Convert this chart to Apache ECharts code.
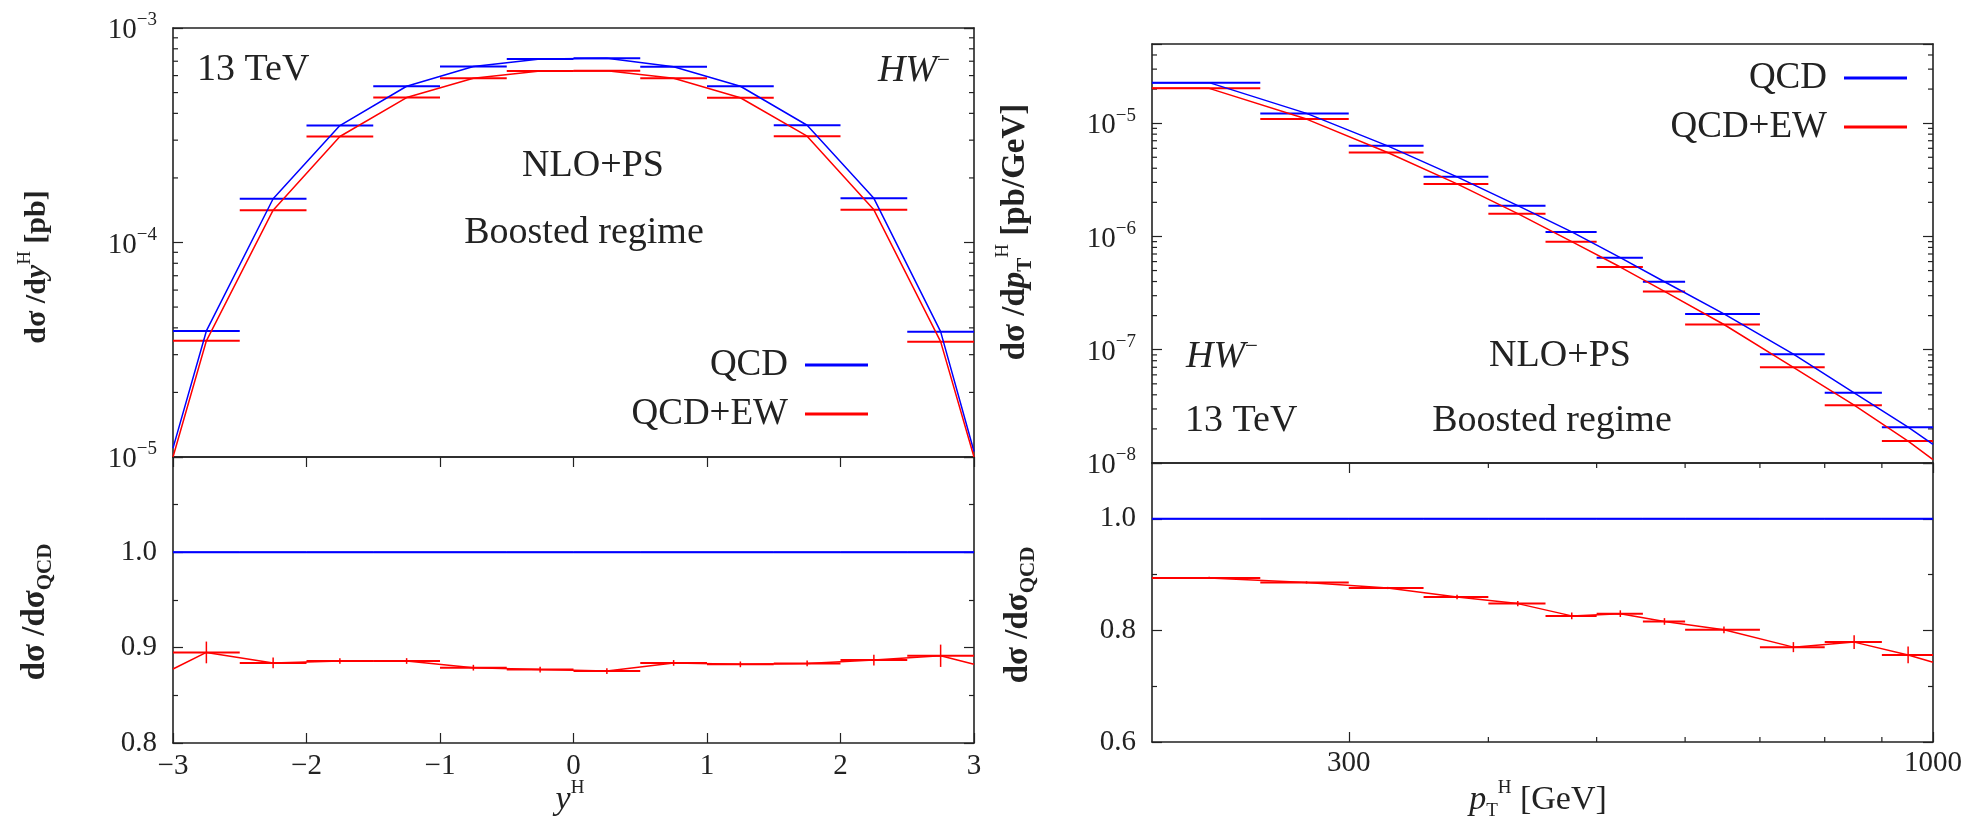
<!DOCTYPE html>
<html>
<head>
<meta charset="utf-8">
<script src="https://cdn.jsdelivr.net/npm/echarts@6/dist/echarts.min.js"></script>
<style>
  html, body { margin: 0; padding: 0; background: #fff; }
  #chart { width: 1980px; height: 821px; }
</style>
</head>
<body>
<div id="chart"></div>
<script>
// rapidity distribution (left)
const yEdges = [-3, -2.5, -2, -1.5, -1, -0.5, 0, 0.5, 1, 1.5, 2, 2.5, 3]
const yQCD = [3.87e-5, 1.60e-4, 3.51e-4, 5.35e-4, 6.61e-4, 7.17e-4, 7.23e-4, 6.60e-4, 5.35e-4, 3.52e-4, 1.607e-4, 3.84e-5]
const yQCDEW = [3.48e-5, 1.415e-4, 3.12e-4, 4.74e-4, 5.83e-4, 6.30e-4, 6.32e-4, 5.83e-4, 4.73e-4, 3.13e-4, 1.42e-4, 3.45e-5]
const yQCDEnds = [1.1e-5, 1.06e-5]
const yQCDEWEnds = [1.0e-5, 1.0e-5]
const yRatioQCD = [1, 1, 1, 1, 1, 1, 1, 1, 1, 1, 1, 1]
const yRatio = [0.895, 0.884, 0.886, 0.886, 0.879, 0.877, 0.8755, 0.884, 0.8825, 0.8835, 0.887, 0.8915]
const yRatioErr = [0.0114, 0.0056, 0.003, 0.003, 0.003, 0.003, 0.003, 0.003, 0.003, 0.003, 0.0056, 0.0117]
const yRatioEnds = [0.8776, 0.8825]
const yTickLabels = [-3, -2, -1, 0, 1, 2, 3]

// transverse momentum distribution (right)
const ptEdges = [200, 250, 300, 350, 400, 450, 500, 550, 600, 700, 800, 900, 1000]
const ptQCD = [2.28e-5, 1.22e-5, 6.31e-6, 3.36e-6, 1.87e-6, 1.096e-6, 6.5e-7, 3.98e-7, 2.07e-7, 9.14e-8, 4.16e-8, 2.07e-8]
const ptQCDEW = [2.03e-5, 1.087e-5, 5.51e-6, 2.91e-6, 1.59e-6, 9.0e-7, 5.37e-7, 3.27e-7, 1.67e-7, 7.0e-8, 3.24e-8, 1.56e-8]
const ptQCDEnds = [2.28e-5, 1.46e-8]
const ptQCDEWEnds = [2.03e-5, 1.07e-8]
const ptRatioQCD = [1, 1, 1, 1, 1, 1, 1, 1, 1, 1, 1, 1]
const ptRatio = [0.894, 0.886, 0.876, 0.860, 0.848, 0.826, 0.830, 0.816, 0.801, 0.770, 0.779, 0.756]
const ptRatioErr = [0.002, 0.002, 0.002, 0.004, 0.0045, 0.006, 0.006, 0.006, 0.006, 0.009, 0.0125, 0.015]
const ptRatioEnds = [0.894, 0.743]
const ptTickLabels = [300, 1000]
const ptMinorTicks = [400, 500, 600, 700, 800, 900]

const BLUE = '#0000ff'
const RED = '#ff0000'
const INK = '#222'
const FONT = "'Liberation Serif', 'DejaVu Serif', serif"

function binData (edges, vals, errs) {
  return vals.map((v, i) => [edges[i], edges[i + 1], (edges[i] + edges[i + 1]) / 2, v, errs ? errs[i] : 0])
}
function lineData (edges, vals, ends) {
  let pts = vals.map((v, i) => [(edges[i] + edges[i + 1]) / 2, v])
  return [[edges[0], ends[0]]].concat(pts, [[edges[edges.length - 1], ends[1]]])
}
function decadeMinors (from, to, topMax) {
  let out = []
  for (let e = from; e < to; e++) {
    for (let k = 2; k <= 9; k++) {
      let v = k * Math.pow(10, e)
      if (!topMax || v < topMax) out.push(v)
    }
  }
  return out
}

function renderBin (params, api) {
  let lo = api.value(0), hi = api.value(1), c = api.value(2), v = api.value(3), e = api.value(4)
  let a = api.coord([lo, v]), b = api.coord([hi, v])
  let color = api.visual('color')
  let children = [{
    type: 'line', shape: { x1: a[0], y1: a[1], x2: b[0], y2: b[1] },
    style: { stroke: color, lineWidth: 2 }
  }]
  if (e > 0) {
    let t = api.coord([c, v + e]), d = api.coord([c, v - e])
    children.push({ type: 'line', shape: { x1: t[0], y1: t[1], x2: d[0], y2: d[1] }, style: { stroke: color, lineWidth: 1.5 } })
  }
  return { type: 'group', children: children }
}

function binSeries (name, color, xi, yi, data) {
  return {
    name: name, type: 'custom', xAxisIndex: xi, yAxisIndex: yi,
    itemStyle: { color: color }, renderItem: renderBin,
    encode: { x: [0, 1, 2], y: [3] }, data: data, z: 3
  }
}
function lineSeries (name, color, xi, yi, data) {
  return {
    name: name, type: 'line', xAxisIndex: xi, yAxisIndex: yi, showSymbol: false,
    lineStyle: { color: color, width: 1.5 }, itemStyle: { color: color }, data: data, z: 4
  }
}
// minor ticks on log axes (at 2..9 x 10^n), drawn from the axis scales
function yMinorSeries (xi, yi, xmin, vals) {
  return {
    type: 'custom', xAxisIndex: xi, yAxisIndex: yi, silent: true,
    encode: { x: 0, y: 1 },
    data: vals.map(v => [xmin, v]),
    renderItem: function (params, api) {
      let p = api.coord([api.value(0), api.value(1)])
      let cs = params.coordSys
      let st = { stroke: INK, lineWidth: 1.2 }
      return { type: 'group', children: [
        { type: 'line', shape: { x1: cs.x, y1: p[1], x2: cs.x + 5, y2: p[1] }, style: st },
        { type: 'line', shape: { x1: cs.x + cs.width, y1: p[1], x2: cs.x + cs.width - 5, y2: p[1] }, style: st }
      ] }
    }
  }
}
function xMinorSeries (xi, yi, ymin, vals) {
  return {
    type: 'custom', xAxisIndex: xi, yAxisIndex: yi, silent: true,
    encode: { x: 0, y: 1 },
    data: vals.map(v => [v, ymin]),
    renderItem: function (params, api) {
      let p = api.coord([api.value(0), api.value(1)])
      let cs = params.coordSys
      let st = { stroke: INK, lineWidth: 1.2 }
      return { type: 'group', children: [
        { type: 'line', shape: { x1: p[0], y1: cs.y + cs.height, x2: p[0], y2: cs.y + cs.height - 5 }, style: st },
        { type: 'line', shape: { x1: p[0], y1: cs.y, x2: p[0], y2: cs.y + 5 }, style: st }
      ] }
    }
  }
}

function powLabel (v) {
  let e = Math.log10(v)
  let r = Math.round(e)
  if (Math.abs(e - r) > 1e-6) return ''
  return '{b|10}{s|−' + (-r) + '}'
}
const powRich = {
  b: { fontSize: 29, fontFamily: FONT, color: INK, lineHeight: 34, verticalAlign: 'bottom' },
  s: { fontSize: 19, fontFamily: FONT, color: INK, lineHeight: 18, verticalAlign: 'top' }
}
const axisLine = { show: true, onZero: false, lineStyle: { color: INK, width: 1.6 } }
const noTick = { show: false }
const labelStyle = { fontSize: 29, fontFamily: FONT, color: INK }

function plainX (grid, pos, type, min, max) {
  return { type: type, gridIndex: grid, position: pos, min: min, max: max, axisLine: axisLine,
    axisTick: noTick, axisLabel: { show: false }, splitLine: { show: false } }
}

let xAxes = [
  plainX(0, 'bottom', 'value', -3, 3),
  plainX(0, 'top', 'value', -3, 3),
  { type: 'value', gridIndex: 1, position: 'bottom', min: -3, max: 3, interval: 1, axisLine: axisLine,
    axisTick: { inside: true, length: 10, lineStyle: { color: INK, width: 1.2 } },
    axisLabel: Object.assign({ margin: 9, customValues: yTickLabels, formatter: v => (v < 0 ? '−' + (-v) : '' + v) }, labelStyle),
    splitLine: { show: false } },
  { type: 'value', gridIndex: 1, position: 'top', min: -3, max: 3, interval: 1, axisLine: axisLine,
    axisTick: { inside: true, length: 10, lineStyle: { color: INK, width: 1.2 } },
    axisLabel: { show: false }, splitLine: { show: false } },
  plainX(2, 'bottom', 'log', 200, 1000),
  plainX(2, 'top', 'log', 200, 1000),
  { type: 'log', gridIndex: 3, position: 'bottom', min: 200, max: 1000, axisLine: axisLine,
    axisTick: { inside: true, length: 10, customValues: ptTickLabels, lineStyle: { color: INK, width: 1.2 } },
    axisLabel: Object.assign({ margin: 7, customValues: ptTickLabels, formatter: v => '' + Math.round(v) }, labelStyle),
    splitLine: { show: false } },
  { type: 'log', gridIndex: 3, position: 'top', min: 200, max: 1000, axisLine: axisLine,
    axisTick: { inside: true, length: 10, customValues: ptTickLabels, lineStyle: { color: INK, width: 1.2 } },
    axisLabel: { show: false }, splitLine: { show: false } }
]

function logY (grid, pos, min, max, labels) {
  return { type: 'log', logBase: 10, gridIndex: grid, position: pos, min: min, max: max, axisLine: axisLine,
    axisTick: { inside: true, length: 10, lineStyle: { color: INK, width: 1.2 } },
    axisLabel: labels ? { margin: 16, formatter: powLabel, rich: powRich } : { show: false },
    splitLine: { show: false } }
}
function ratioY (grid, pos, min, max, interval, labels) {
  return { type: 'value', gridIndex: grid, position: pos, min: min, max: max, interval: interval, axisLine: axisLine,
    axisTick: { inside: true, length: 10, lineStyle: { color: INK, width: 1.2 } },
    minorTick: { show: true, splitNumber: 2, length: 5, lineStyle: { color: INK, width: 1.2 } },
    axisLabel: labels ? Object.assign({ margin: 16, formatter: v => (v > 1.05 ? '' : v.toFixed(1)) }, labelStyle) : { show: false },
    splitLine: { show: false }, minorSplitLine: { show: false } }
}

let yAxes = [
  logY(0, 'left', 1e-5, 1e-3, true),
  logY(0, 'right', 1e-5, 1e-3, false),
  ratioY(1, 'left', 0.8, 1.1, 0.1, true),
  ratioY(1, 'right', 0.8, 1.1, 0.1, false),
  logY(2, 'left', 1e-8, 5e-5, true),
  logY(2, 'right', 1e-8, 5e-5, false),
  ratioY(3, 'left', 0.6, 1.1, 0.2, true),
  ratioY(3, 'right', 0.6, 1.1, 0.2, false)
]

let series = [
  binSeries('QCD', BLUE, 0, 0, binData(yEdges, yQCD)),
  binSeries('QCD+EW', RED, 0, 0, binData(yEdges, yQCDEW)),
  lineSeries('QCD', BLUE, 0, 0, lineData(yEdges, yQCD, yQCDEnds)),
  lineSeries('QCD+EW', RED, 0, 0, lineData(yEdges, yQCDEW, yQCDEWEnds)),
  yMinorSeries(0, 0, -3, decadeMinors(-5, -3)),

  binSeries('QCD', BLUE, 2, 2, binData(yEdges, yRatioQCD)),
  lineSeries('QCD', BLUE, 2, 2, lineData(yEdges, yRatioQCD, [1, 1])),
  binSeries('QCD+EW', RED, 2, 2, binData(yEdges, yRatio, yRatioErr)),
  lineSeries('QCD+EW', RED, 2, 2, lineData(yEdges, yRatio, yRatioEnds)),

  binSeries('QCD', BLUE, 4, 4, binData(ptEdges, ptQCD)),
  binSeries('QCD+EW', RED, 4, 4, binData(ptEdges, ptQCDEW)),
  lineSeries('QCD', BLUE, 4, 4, lineData(ptEdges, ptQCD, ptQCDEnds)),
  lineSeries('QCD+EW', RED, 4, 4, lineData(ptEdges, ptQCDEW, ptQCDEWEnds)),
  yMinorSeries(4, 4, 200, decadeMinors(-8, -4, 5e-5)),

  binSeries('QCD', BLUE, 6, 6, binData(ptEdges, ptRatioQCD)),
  lineSeries('QCD', BLUE, 6, 6, lineData(ptEdges, ptRatioQCD, [1, 1])),
  binSeries('QCD+EW', RED, 6, 6, binData(ptEdges, ptRatio, ptRatioErr)),
  lineSeries('QCD+EW', RED, 6, 6, lineData(ptEdges, ptRatio, ptRatioEnds)),
  xMinorSeries(6, 6, 0.6, ptMinorTicks)
]

function legendAt (right, top) {
  return {
    orient: 'vertical', right: right, top: top, align: 'right', icon: 'rect',
    itemWidth: 63, itemHeight: 3, itemGap: 9, selectedMode: false,
    textStyle: { fontSize: 37, fontFamily: FONT, color: INK, lineHeight: 40, padding: [0, 12, 0, 0] },
    data: [{ name: 'QCD', itemStyle: { color: BLUE } }, { name: 'QCD+EW', itemStyle: { color: RED } }]
  }
}

const textRich = {
  m: { fontSize: 38, fontFamily: FONT, color: INK, lineHeight: 44 },
  i: { fontSize: 38, fontFamily: FONT, fontStyle: 'italic', color: INK, lineHeight: 44 },
  s: { fontSize: 23, fontFamily: FONT, color: INK, lineHeight: 26, verticalAlign: 'top' }
}
function label (x, y, text, align) {
  return { type: 'text', x: x, y: y, silent: true,
    style: { text: text, rich: textRich, align: align || 'center', verticalAlign: 'middle', fill: INK } }
}
function nameRich (size) {
  return {
    m: { fontSize: size, fontFamily: FONT, fontWeight: 'bold', color: INK, lineHeight: 42 },
    i: { fontSize: size, fontFamily: FONT, fontWeight: 'bold', fontStyle: 'italic', color: INK, lineHeight: 42 },
    sup: { fontSize: 19, fontFamily: FONT, color: INK, lineHeight: 24, verticalAlign: 'top' },
    sub: { fontSize: 21, fontFamily: FONT, fontWeight: 'bold', color: INK, lineHeight: 24, verticalAlign: 'bottom' }
  }
}
const xNameRich = {
  m: { fontSize: 34, fontFamily: FONT, color: INK, lineHeight: 42 },
  i: { fontSize: 34, fontFamily: FONT, fontStyle: 'italic', color: INK, lineHeight: 42 },
  sup: { fontSize: 19, fontFamily: FONT, color: INK, lineHeight: 22, verticalAlign: 'top' },
  sub: { fontSize: 19, fontFamily: FONT, color: INK, lineHeight: 22, verticalAlign: 'bottom' }
}
function yName (x, y, text, size) {
  return { type: 'text', x: x, y: y, rotation: Math.PI / 2, silent: true,
    style: { text: text, rich: nameRich(size), align: 'center', verticalAlign: 'middle', fill: INK } }
}
function xName (x, y, text) {
  return { type: 'text', x: x, y: y, silent: true,
    style: { text: text, rich: xNameRich, align: 'center', verticalAlign: 'middle', fill: INK } }
}

let chart = echarts.init(document.getElementById('chart'))
chart.setOption({
  animation: false,
  backgroundColor: '#fff',
  grid: [
    { left: 173, top: 28, width: 801, height: 429 },
    { left: 173, top: 457, width: 801, height: 286 },
    { left: 1152, top: 44, width: 781, height: 419 },
    { left: 1152, top: 463, width: 781, height: 279 }
  ],
  xAxis: xAxes,
  yAxis: yAxes,
  legend: [legendAt(1107, 340), legendAt(68, 53)],
  series: series,
  graphic: [
    label(197, 70, '{m|13 TeV}', 'left'),
    label(950, 71, '{i|HW}{s|−}', 'right'),
    label(593, 166, '{m|NLO+PS}'),
    label(584, 233, '{m|Boosted regime}'),
    label(1186, 357, '{i|HW}{s|−}', 'left'),
    label(1560, 356, '{m|NLO+PS}'),
    label(1185, 421, '{m|13 TeV}', 'left'),
    label(1552, 421, '{m|Boosted regime}'),
    yName(37, 267, '{m|dσ /d}{i|y}{sup|H}{m| [pb]}', 30),
    yName(35, 612, '{m|dσ /dσ}{sub|QCD}', 33),
    yName(1015, 232, '{m|dσ /d}{i|p}{sub|T}{sup|H}{m| [pb/GeV]}', 33),
    yName(1018, 615, '{m|dσ /dσ}{sub|QCD}', 33),
    xName(570, 800, '{i|y}{sup|H}'),
    xName(1538, 800, '{i|p}{sub|T}{sup|H}{m| [GeV]}')
  ]
})
</script>
</body>
</html>
